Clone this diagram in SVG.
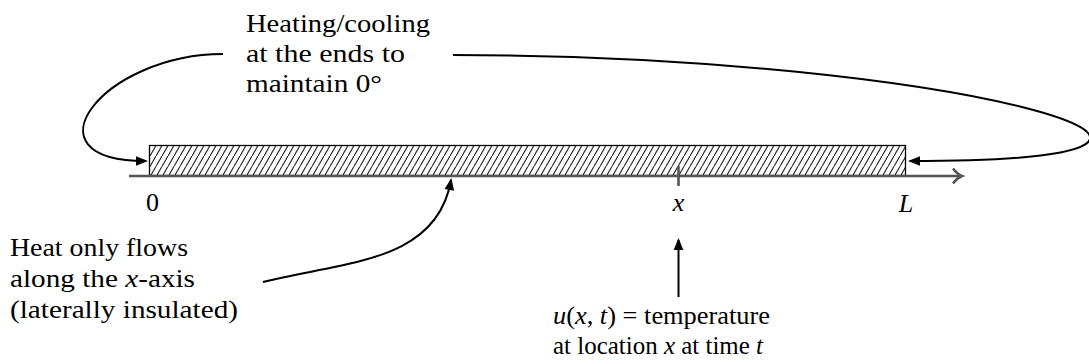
<svg xmlns="http://www.w3.org/2000/svg" width="1089" height="364" viewBox="0 0 1089 364">
<style>
text{font-family:"Liberation Serif","Times New Roman",serif;font-size:26px;fill:#000}
.it{font-style:italic}
.sm{font-size:25px}
.conn{fill:none;stroke:#000;stroke-width:2}
.axis{fill:none;stroke:#555;stroke-width:2.6}
</style>
<defs>
<pattern id="hatch" patternUnits="userSpaceOnUse" x="0" y="0" width="6" height="10.4">
<path d="M-1,12.13 L7,-1.73" stroke="#000" stroke-width="1" fill="none"/>
</pattern>
<marker id="ah" markerUnits="userSpaceOnUse" markerWidth="14" markerHeight="12" refX="10" refY="6" orient="auto" overflow="visible">
<path d="M0,1.2 L12,6 L0,10.8 Z" fill="#000"/>
</marker>
</defs>
<rect width="1089" height="364" fill="#fff"/>
<g id="bar">
<rect x="149.5" y="145.5" width="756" height="30" fill="url(#hatch)" stroke="#000" stroke-width="1.3"/>
</g>
<g id="axis">
<line class="axis" x1="129" y1="176" x2="961" y2="176"/>
<path class="axis" d="M953,168.5 Q957,174 962,176 Q957,178 953,183.5"/>
<line class="axis" x1="678.5" y1="166" x2="678.5" y2="186"/>
<text x="152.5" y="211" text-anchor="middle">0</text>
<text class="it" x="678.5" y="211" text-anchor="middle">x</text>
<text class="it" x="906" y="212" text-anchor="middle">L</text>
</g>
<g id="heating-label">
<text x="246" y="32" textLength="184" lengthAdjust="spacingAndGlyphs">Heating/cooling</text>
<text x="246" y="62" textLength="159" lengthAdjust="spacingAndGlyphs">at the ends to</text>
<text x="246" y="92" textLength="136" lengthAdjust="spacingAndGlyphs">maintain 0°</text>
</g>
<g id="heat-flow-label">
<text x="10" y="256" textLength="178" lengthAdjust="spacingAndGlyphs">Heat only flows</text>
<text x="10" y="287" textLength="185" lengthAdjust="spacingAndGlyphs">along the <tspan class="it">x</tspan>-axis</text>
<text x="10" y="318" textLength="228" lengthAdjust="spacingAndGlyphs">(laterally insulated)</text>
</g>
<g id="temp-label">
<text class="sm" x="553" y="324" textLength="217" lengthAdjust="spacingAndGlyphs"><tspan class="it">u</tspan>(<tspan class="it">x, t</tspan>) = temperature</text>
<text class="sm" x="553" y="354" textLength="210" lengthAdjust="spacingAndGlyphs">at location <tspan class="it">x</tspan> at time <tspan class="it">t</tspan></text>
</g>
<g id="connectors">
<path class="conn" d="M223,54 C103,54 20,161 146,161" marker-end="url(#ah)"/>
<path class="conn" d="M453,55 C953,55 1328,161 910,161" marker-end="url(#ah)"/>
<path class="conn" d="M263,282 C340,262 437,264 451,180" marker-end="url(#ah)"/>
<line class="conn" x1="678.5" y1="297" x2="678.5" y2="240" marker-end="url(#ah)"/>
</g>
</svg>
